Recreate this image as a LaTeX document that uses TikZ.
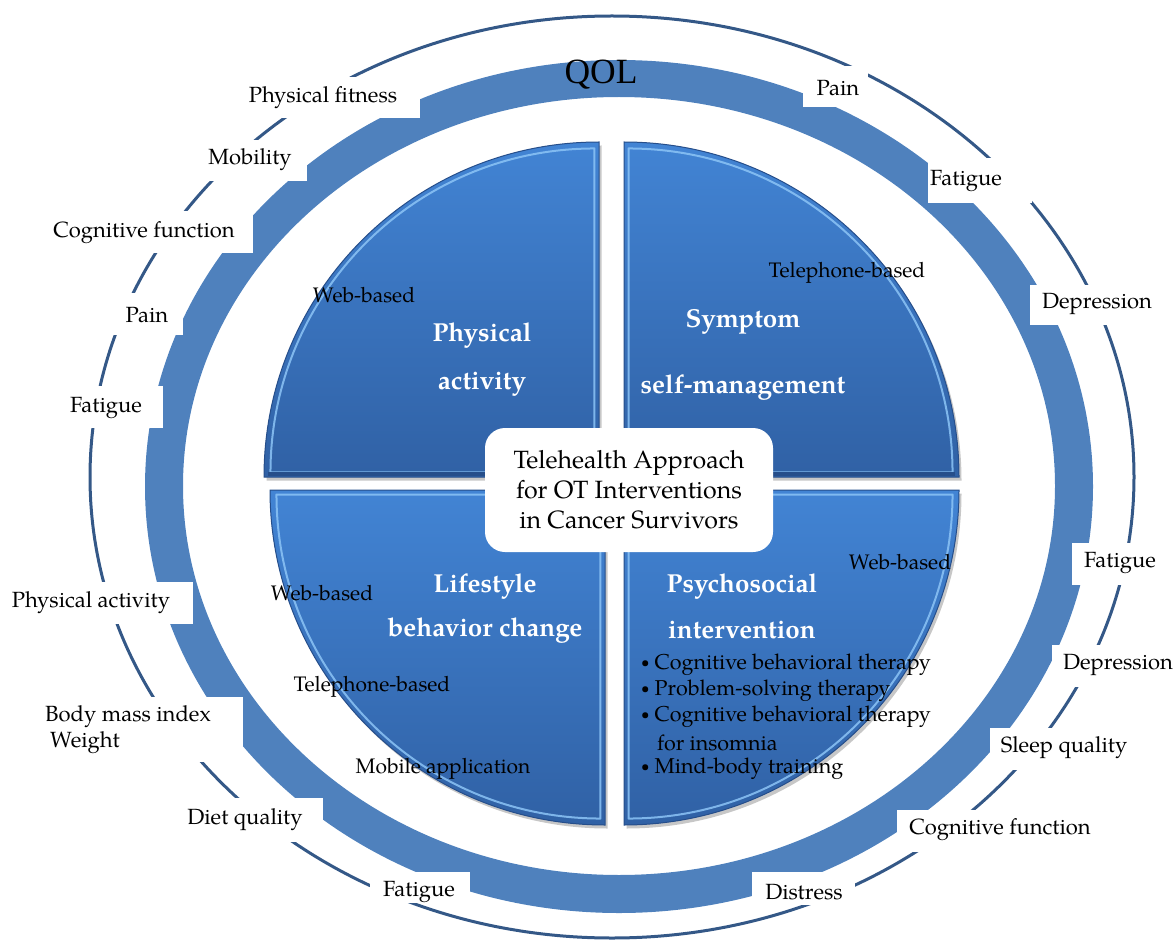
\documentclass[tikz,border=0pt]{standalone}
\usepackage{fontspec}
\setmainfont{TeX Gyre Pagella}
\newfontfamily\qolfont{Liberation Serif}
\definecolor{ringblue}{RGB}{79,129,189}
\definecolor{linedark}{RGB}{52,88,135}
\definecolor{quadtop}{RGB}{66,132,212}
\definecolor{quadbot}{RGB}{48,97,165}
\definecolor{bevel}{RGB}{140,196,246}
\definecolor{edgeblue}{RGB}{38,78,138}
\begin{document}
\begin{tikzpicture}[x=1pt,y=-1pt,
  lbl/.style={font=\fontsize{22}{26}\selectfont, text=black, inner sep=0pt},
  sublbl/.style={font=\fontsize{21}{25}\selectfont, text=black, inner sep=0pt},
  head/.style={font=\fontsize{26}{30}\selectfont\bfseries, text=white, inner sep=0pt},
  item/.style={font=\fontsize{21.5}{25}\selectfont, text=black, inner sep=0pt, anchor=west},
  gap/.style={fill=white}]
\useasboundingbox (0,0) rectangle (1175,941);

% outer thin ellipse
\draw[linedark, line width=3] (612,477) ellipse [x radius=522, y radius=461];
% QOL ring
\fill[ringblue, even odd rule] (619,486.5) ellipse [x radius=474, y radius=426.5]
                                (619,486) ellipse [x radius=436, y radius=389];

% white label backgrounds cutting the ring and the thin ellipse
\fill[gap] (240,77) rectangle (420,118);   % Physical fitness
\fill[gap] (195,140) rectangle (307,181);  % Mobility
\fill[gap] (45,211) rectangle (253,253);   % Cognitive function
\fill[gap] (112,293) rectangle (183,335);  % Pain
\fill[gap] (60,386) rectangle (163,428);   % Fatigue
\fill[gap] (5,582) rectangle (193,624);    % Physical activity
\fill[gap] (35,697) rectangle (243,762);   % Body mass index / Weight
\fill[gap] (180,798) rectangle (323,842);  % Diet quality
\fill[gap] (370,872) rectangle (470,903);  % Fatigue (bottom)
\fill[gap] (752,872) rectangle (855,905);  % Distress
\fill[gap] (897,810) rectangle (1100,852); % Cognitive function
\fill[gap] (990,728) rectangle (1140,770); % Sleep quality
\fill[gap] (1052,645) rectangle (1175,687);% Depression
\fill[gap] (1072,543) rectangle (1165,585);% Fatigue
\fill[gap] (1030,285) rectangle (1160,325);% Depression
\fill[gap] (928,158) rectangle (1032,203); % Fatigue
\fill[gap] (803,66) rectangle (868,107);   % Pain

% outcome labels
\node[font=\qolfont\fontsize{35.5}{40}\selectfont, inner sep=0pt] (qol) at (601,75) {QOL};
\node[lbl] (l1) at (323,98) {Physical fitness};
\node[lbl] (l2) at (250,160) {Mobility};
\node[lbl] (l3) at (144,233) {Cognitive function};
\node[lbl] (l4) at (147,315) {Pain};
\node[lbl] (l5) at (106,408) {Fatigue};
\node[lbl] (l6) at (91,603) {Physical activity};
\node[lbl, anchor=west] (l7) at (45,717) {Body mass index};
\node[lbl, anchor=west] (l8) at (50,743) {Weight};
\node[lbl] (l9) at (245,820) {Diet quality};
\node[lbl] (l10) at (419,892) {Fatigue};
\node[lbl] (r1) at (838,88) {Pain};
\node[lbl] (r2) at (966,181) {Fatigue};
\node[lbl] (r3) at (1097,304) {Depression};
\node[lbl] (r4) at (1120,563) {Fatigue};
\node[lbl] (r5) at (1118,665) {Depression};
\node[lbl] (r6) at (1064,748) {Sleep quality};
\node[lbl] (r7) at (1000,830) {Cognitive function};
\node[lbl] (r8) at (804,892) {Distress};

% four pie quadrants: shadow, shaded body, bevel highlight, rim
\foreach \cx/\cy/\a in {599/477/180, 624/477/270, 605/490/90, 624/490/0} {
  \fill[black, opacity=.22] ([shift={(2.5,3.5)}]\cx,\cy) -- ++(\a:335)
        arc[start angle=\a, delta angle=90, radius=335] -- cycle;
  \shade[top color=quadtop, bottom color=quadbot] (\cx,\cy) -- ++(\a:335)
        arc[start angle=\a, delta angle=90, radius=335] -- cycle;
  \draw[bevel, opacity=.85, line width=2, line join=round] ([shift={(\a+45:6.4)}]\cx,\cy) -- ++(\a:324)
        arc[start angle=\a, delta angle=90, radius=324] -- cycle;
  \draw[edgeblue, line width=1] (\cx,\cy) -- ++(\a:335)
        arc[start angle=\a, delta angle=90, radius=335] -- cycle;
}
% darker lower rims of the two upper quadrants
\draw[edgeblue, line width=3.5] (268,474) -- (598,474);
\draw[edgeblue, line width=3.5] (625,474) -- (955,474);

% quadrant headings
\node[head] (pa1) at (482,336) {Physical};
\node[head] (pa2) at (482,384) {activity};
\node[head] (sm1) at (743,322) {Symptom};
\node[head] (sm2) at (743,388) {self-management};
\node[head] (lb1) at (485,587) {Lifestyle};
\node[head] (lb2) at (485,631) {behavior change};
\node[head] (ps1) at (742,587) {Psychosocial};
\node[head] (ps2) at (742,630) {intervention};

% delivery modes
\node[sublbl] (m1) at (364,295) {Web-based};
\node[sublbl] (m2) at (847,273) {Telephone-based};
\node[sublbl] (m3) at (322,593) {Web-based};
\node[sublbl] (m4) at (372,687) {Telephone-based};
\node[sublbl] (m5) at (443,769) {Mobile application};
\node[sublbl] (m6) at (900,562) {Web-based};

% psychosocial programmes
\newcommand\dotmark{\raisebox{2.5pt}{\fontsize{15}{15}\selectfont\textbullet}\hspace{5pt}}
\node[item] (b1) at (641,665) {\dotmark Cognitive behavioral therapy};
\node[item] (b2) at (641,691) {\dotmark Problem-solving therapy};
\node[item] (b3) at (641,717) {\dotmark Cognitive behavioral therapy};
\node[item] (b4) at (657,743) {for insomnia};
\node[item] (b5) at (641,769) {\dotmark Mind-body training};

% central hub
\node[fill=white, rounded corners=20, minimum width=288, minimum height=124,
      align=center, font=\fontsize{25}{30}\selectfont, inner sep=0pt] (hub) at (629,490)
  {Telehealth Approach\\for OT Interventions\\in Cancer Survivors};
\end{tikzpicture}
\end{document}
